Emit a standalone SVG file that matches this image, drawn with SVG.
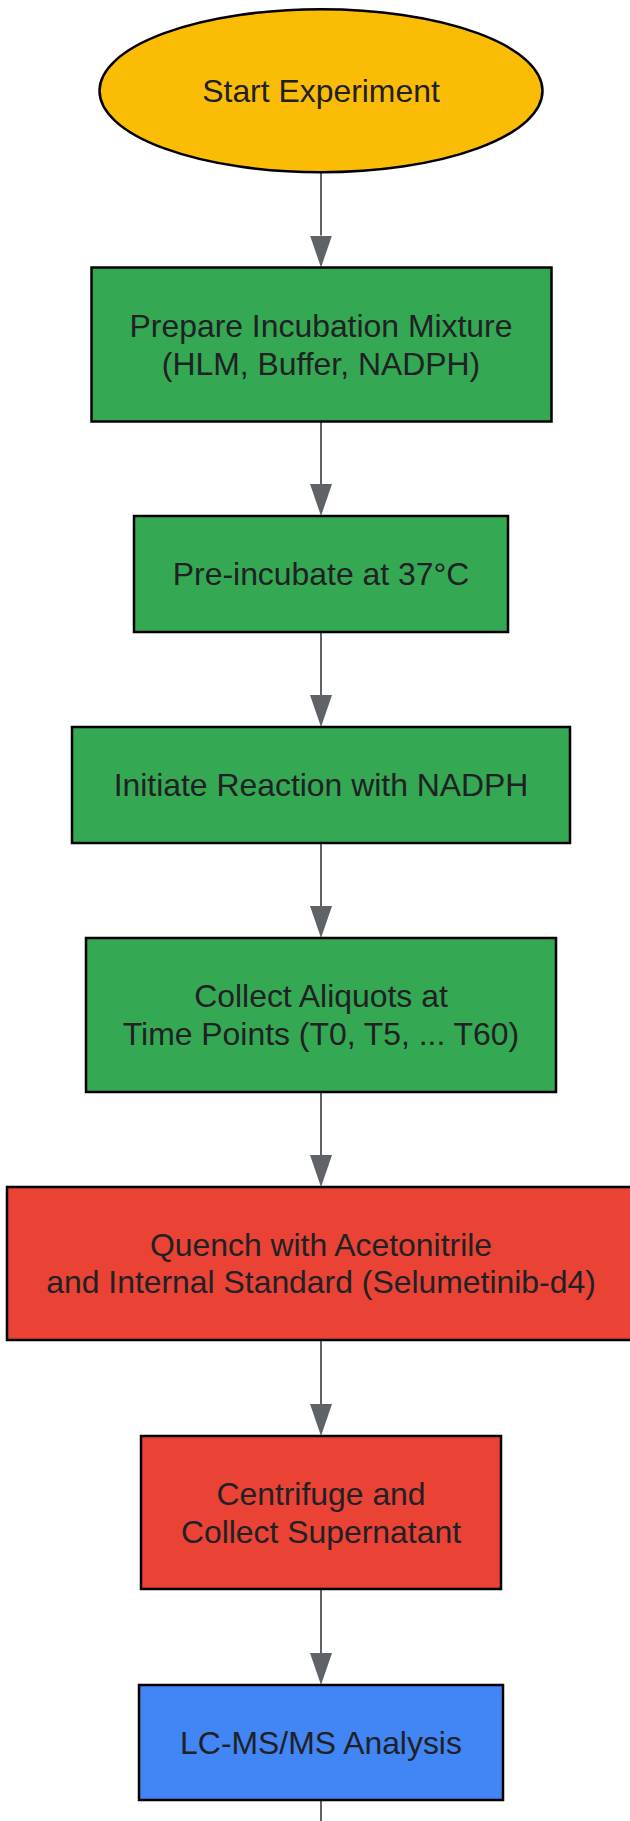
<svg xmlns="http://www.w3.org/2000/svg" width="630" height="1821" viewBox="0 0 630 1821">
<style>
.node{stroke:#000;stroke-width:2.5}
.y{fill:#FBBC05}.g{fill:#34A853}.r{fill:#EA4335}.b{fill:#4285F4}
text{font-family:"Liberation Sans",Arial,sans-serif;font-size:31.9px;fill:#202124;text-anchor:middle}
.edge{stroke:#5F6368;stroke-width:2;fill:none}
</style>
<defs>
<marker id="ah" viewBox="0 0 32 22" refX="0" refY="11" markerWidth="32" markerHeight="22" markerUnits="userSpaceOnUse" orient="auto">
<path d="M0,0 L32,11 L0,22 z" fill="#5F6368"/>
</marker>
</defs>
<rect width="630" height="1821" fill="#fff"/>
<g id="connectors">
<line class="edge" x1="321" y1="172" x2="321" y2="235.5" marker-end="url(#ah)"/>
<line class="edge" x1="321" y1="422" x2="321" y2="484" marker-end="url(#ah)"/>
<line class="edge" x1="321" y1="632" x2="321" y2="695" marker-end="url(#ah)"/>
<line class="edge" x1="321" y1="843" x2="321" y2="906" marker-end="url(#ah)"/>
<line class="edge" x1="321" y1="1092" x2="321" y2="1155" marker-end="url(#ah)"/>
<line class="edge" x1="321" y1="1340" x2="321" y2="1404" marker-end="url(#ah)"/>
<line class="edge" x1="321" y1="1589" x2="321" y2="1653" marker-end="url(#ah)"/>
<line class="edge" x1="321" y1="1800" x2="321" y2="1830"/>
</g>
<g id="start">
<ellipse class="node y" cx="321" cy="90.8" rx="221.5" ry="81.5"/>
<text x="321" y="101.8">Start Experiment</text>
</g>
<g id="prepare">
<rect class="node g" x="91.5" y="267.5" width="460" height="154"/>
<text x="321" y="337">Prepare Incubation Mixture</text>
<text x="321" y="374.7">(HLM, Buffer, NADPH)</text>
</g>
<g id="preincubate">
<rect class="node g" x="134" y="516" width="374" height="116"/>
<text x="321" y="585">Pre-incubate at 37°C</text>
</g>
<g id="initiate">
<rect class="node g" x="72" y="727" width="498" height="116"/>
<text x="321" y="796">Initiate Reaction with NADPH</text>
</g>
<g id="collect">
<rect class="node g" x="86" y="938" width="470" height="154"/>
<text x="321" y="1007">Collect Aliquots at</text>
<text x="321" y="1044.7">Time Points (T0, T5, ... T60)</text>
</g>
<g id="quench">
<rect class="node r" x="7" y="1187" width="628" height="153"/>
<text x="321" y="1255.7">Quench with Acetonitrile</text>
<text x="321" y="1293.4">and Internal Standard (Selumetinib-d4)</text>
</g>
<g id="centrifuge">
<rect class="node r" x="141" y="1436" width="360" height="153"/>
<text x="321" y="1505">Centrifuge and</text>
<text x="321" y="1542.7">Collect Supernatant</text>
</g>
<g id="lcms">
<rect class="node b" x="139" y="1685" width="364" height="115"/>
<text x="321" y="1753.5">LC-MS/MS Analysis</text>
</g>
</svg>
